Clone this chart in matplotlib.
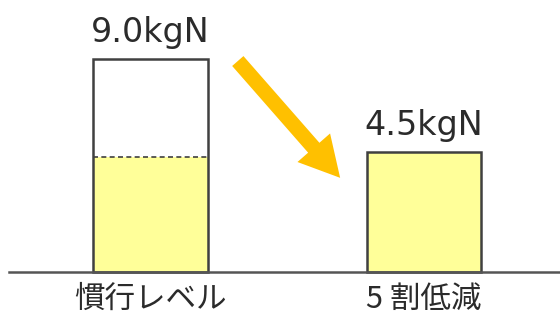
import matplotlib
matplotlib.use('Agg')
from matplotlib import pyplot as plt
from matplotlib.patches import FancyArrowPatch

plt.rcParams['font.family'] = ['Noto Sans CJK JP', 'DejaVu Sans']

# data
categories = ['慣行レベル', '5 割低減']
heights = [9.0, 5.07]          # drawn bar heights (as in picture)
value_labels = ['9.0kgN', '4.5kgN']
fill_level = 4.86              # yellow part inside left bar

yellow = '#FFFF99'
edge = '#404040'
txt = '#2b2b2b'

fig = plt.figure(figsize=(5.6, 3.16), dpi=100)
ax = fig.add_axes([0, 0, 1, 1])
ax.axis('off')

x = [0, 1]
w = 0.42
# left bar: white with yellow part
ax.bar(x[0], fill_level, width=w, color=yellow, edgecolor='none', zorder=2)
ax.bar(x[0], heights[0], width=w, color='none', edgecolor=edge, linewidth=1.8, zorder=3)
ax.plot([x[0] - w/2, x[0] + w/2], [fill_level, fill_level], color=edge, lw=1.2, ls=(0, (3, 2)), zorder=3)
# right bar
ax.bar(x[1], heights[1], width=w, color=yellow, edgecolor=edge, linewidth=1.8, zorder=3)

for xi, h, lab in zip(x, heights, value_labels):
    ax.text(xi, h + 0.72, lab, ha='center', va='baseline', fontsize=24,
            color=txt, family='DejaVu Sans')
for xi, lab in zip(x, categories):
    ax.text(xi, -1.14, lab, ha='center', va='center', fontsize=22, color=txt)

ax.axhline(0, xmin=9/560, xmax=1, color='#555555', lw=1.8, zorder=4)

arr = FancyArrowPatch((0.3126, 9.0), (0.70, 3.89),
                      arrowstyle='simple,head_width=2.6,head_length=2.4,tail_width=0.9',
                      mutation_scale=12, color='#FFC000', lw=0, zorder=5)
ax.add_patch(arr)

ax.set_xlim(-0.550, 1.497)
ax.set_ylim(-1.859, 11.49)
fig.savefig('out.png', dpi=100)
